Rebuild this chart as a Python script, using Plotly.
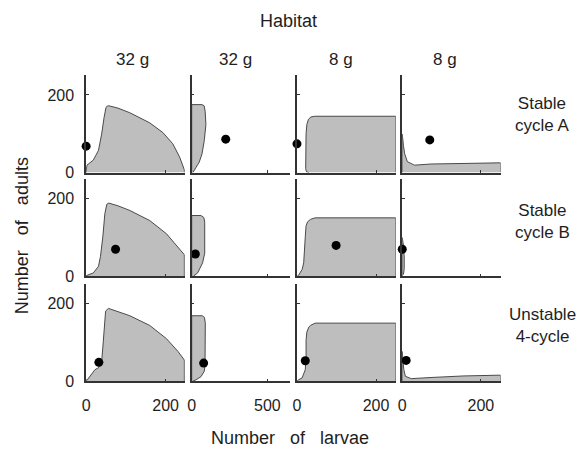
import plotly.graph_objects as go

W, H = 582, 459

habitats = ["32 g", "32 g", "8 g", "8 g"]
regimes = ["Stable<br>cycle A", "Stable<br>cycle B", "Unstable<br>4-cycle"]
x_max = [248, 650, 250, 250]
y_max = 250
x_ticks = [[0, 200], [0, 500], [0, 200], [0, 200]]
y_ticks = [0, 200]

# equilibrium state (larvae, adults) for each regime row and habitat column
eq_larvae = [[0, 225, 0, 70], [74, 24, 99, 0], [32, 79, 21, 10]]
eq_adults = [[68, 86, 74, 84], [70, 58, 80, 70], [49, 47, 53, 54]]

# boundaries of the shaded regions, row by row (regime), column by column (habitat)
r1c1_larvae = [0, 0, 2, 18, 31, 39, 45, 50, 53, 57, 80, 110, 160, 193, 218, 235, 247, 247]
r1c1_adults = [0, 3, 19, 32, 57, 99, 141, 168, 171, 172, 166, 154, 128, 103, 74, 40, 7, 0]
r1c2_larvae = [0, 0, 68, 82, 89, 94, 83, 68, 50, 28, 11, 8]
r1c2_adults = [0, 175, 175, 172, 158, 124, 82, 48, 27, 11, 2, 0]
r1c3_larvae = [30, 24, 22, 22, 23, 25, 29, 35, 45, 250, 250]
r1c3_adults = [0, 2, 10, 60, 100, 124, 137, 143, 145, 145, 0]
r1c4_larvae = [0, 0, 3, 6, 13, 31, 73, 150, 250, 250]
r1c4_adults = [0, 99, 70, 49, 28, 19, 22, 24, 25, 0]

r2c1_larvae = [0, 0, 18, 31, 36, 42, 47, 52, 57, 80, 110, 160, 202, 231, 247, 247]
r2c1_adults = [0, 2, 9, 26, 51, 102, 161, 186, 189, 182, 170, 144, 110, 77, 56, 0]
r2c2_larvae = [0, 0, 61, 80, 86, 88, 86, 72, 39, 12]
r2c2_adults = [0, 157, 157, 152, 140, 100, 60, 35, 9, 1]
r2c3_larvae = [0, 4, 13, 17, 21, 23, 27, 34, 46, 250, 250]
r2c3_adults = [0, 3, 18, 35, 102, 131, 141, 147, 151, 151, 0]
r2c4_larvae = [0, 0, 3, 5, 5, 3]
r2c4_adults = [0, 100, 80, 50, 20, 5]

r3c1_larvae = [0, 0, 3, 14, 22, 31, 39, 41.5, 45, 49, 56, 80, 110, 160, 202, 231, 247, 247]
r3c1_adults = [0, 4, 4, 18, 30, 35, 51, 81, 131, 181, 188, 180, 169, 144, 110, 77, 55, 0]
r3c2_larvae = [0, 0, 70, 84, 90, 90, 88, 83, 61, 28, 10]
r3c2_adults = [0, 169, 169, 165, 150, 60, 40, 26, 12, 4, 1]
r3c3_larvae = [0, 4, 13, 21, 23, 23, 25, 30, 34, 46, 250, 250]
r3c3_adults = [0, 4, 9, 30, 64, 106, 127, 140, 144, 150, 150, 0]
r3c4_larvae = [0, 0, 2, 4, 8, 23, 73, 157, 250, 250]
r3c4_adults = [0, 77, 50, 30, 13, 7, 10, 14, 16, 0]

regions = [
    [(r1c1_larvae, r1c1_adults), (r1c2_larvae, r1c2_adults),
     (r1c3_larvae, r1c3_adults), (r1c4_larvae, r1c4_adults)],
    [(r2c1_larvae, r2c1_adults), (r2c2_larvae, r2c2_adults),
     (r2c3_larvae, r2c3_adults), (r2c4_larvae, r2c4_adults)],
    [(r3c1_larvae, r3c1_adults), (r3c2_larvae, r3c2_adults),
     (r3c3_larvae, r3c3_adults), (r3c4_larvae, r3c4_adults)],
]

FONT = "Liberation Sans, Arial, sans-serif"
AXIS = "#333333"
FILL = "#bebebe"
EDGE = "#4a4a4a"
TEXT = "#1e1e1e"

# panel placement in pixels
col_px = [(82.7, 182.0), (189.0, 288.0), (295.0, 394.5), (401.0, 500.0)]
row_px = [(77.0, 176.0), (183.0, 282.0), (290.0, 389.0)]


def px_x(a, b):
    return [a / W, b / W]


def px_y(top, bottom):
    return [1 - bottom / H, 1 - top / H]


fig = go.Figure()
layout = {}

for r in range(3):
    for c in range(4):
        k = r * 4 + c + 1
        sx = "" if k == 1 else str(k)
        xs, ys = regions[r][c]
        fig.add_trace(go.Scatter(
            x=xs, y=ys, mode="lines", fill="toself", fillcolor=FILL,
            line=dict(color=EDGE, width=1), hoverinfo="skip",
            xaxis="x" + sx, yaxis="y" + sx, showlegend=False))
        fig.add_trace(go.Scatter(
            x=[eq_larvae[r][c]], y=[eq_adults[r][c]], mode="markers",
            marker=dict(color="black", size=9), cliponaxis=False,
            xaxis="x" + sx, yaxis="y" + sx, showlegend=False))
        layout["xaxis" + sx] = dict(
            domain=px_x(*col_px[c]), anchor="y" + sx, range=[0, x_max[c]],
            showline=True, linecolor=AXIS, linewidth=1.5, showgrid=False,
            zeroline=False, ticks="inside", ticklen=3, tickcolor=AXIS,
            tickvals=x_ticks[c], showticklabels=(r == 2), ticklabelstandoff=9,
            tickfont=dict(family=FONT, size=16, color=TEXT))
        layout["yaxis" + sx] = dict(
            domain=px_y(*row_px[r]), anchor="x" + sx, range=[0, y_max],
            showline=True, linecolor=AXIS, linewidth=1.5, showgrid=False,
            zeroline=False, ticks="inside", ticklen=3, tickcolor=AXIS,
            tickvals=y_ticks, showticklabels=(c == 0), ticklabelstandoff=7,
            tickfont=dict(family=FONT, size=16, color=TEXT))

annotations = []


def label(text, x, y, size=17, angle=0):
    annotations.append(dict(
        text=text, x=x / W, y=1 - y / H, xref="paper", yref="paper",
        showarrow=False, xanchor="center", yanchor="middle", textangle=angle,
        font=dict(family=FONT, size=size, color=TEXT)))


label("Habitat", 286, 21, size=18)
for name, cx in zip(habitats, [129.5, 233.5, 339.5, 444.5]):
    label(name, cx, 61)
for name, cy in zip(regimes, [117, 225.5, 332]):
    label(name, 542, cy)
sp = "\u00a0\u00a0\u00a0"
label("Number" + sp + "of" + sp + "larvae", 288, 447, size=18)
label("Number" + sp + "of" + sp + "adults", 18, 240, size=18, angle=-90)

fig.update_layout(
    width=W, height=H, margin=dict(l=0, r=0, t=0, b=0),
    paper_bgcolor="white", plot_bgcolor="white",
    annotations=annotations, **layout)

fig.write_html("out.html")
